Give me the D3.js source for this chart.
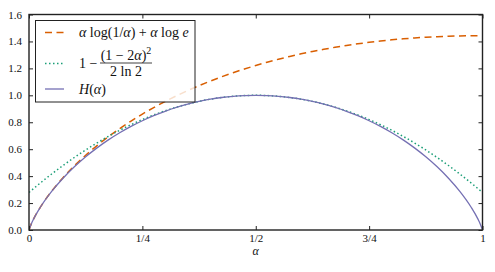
<!DOCTYPE html>
<html><head><meta charset="utf-8">
<script src="https://cdn.jsdelivr.net/npm/d3@7"></script>
<style>
html,body{margin:0;padding:0;background:#fff;}
svg{display:block;font-family:'Liberation Serif','DejaVu Serif',serif;}
svg text{font-family:'Liberation Serif','DejaVu Serif',serif;}
</style></head>
<body>
<svg id="chart" width="495" height="272"></svg>
<script>
// ---- data ----
const alpha = [0,0.005,0.01,0.025,0.05,0.075,0.1,0.125,0.15,0.175,0.2,0.225,0.25,0.275,0.3,0.325,0.35,0.375,0.4,0.425,0.45,0.475,0.5,0.525,0.55,0.575,0.6,0.625,0.65,0.675,0.7,0.725,0.75,0.775,0.8,0.825,0.85,0.875,0.9,0.925,0.95,0.975,0.99,0.995,1];
const upperBound = [0,0.0454,0.0809,0.1691,0.2882,0.3885,0.4765,0.5553,0.6270,0.6925,0.7529,0.8088,0.8607,0.9089,0.9539,0.9959,1.0351,1.0716,1.1059,1.1378,1.1676,1.1954,1.2214,1.2455,1.2679,1.2886,1.3078,1.3255,1.3417,1.3566,1.3701,1.3823,1.3933,1.4031,1.4117,1.4192,1.4256,1.4309,1.4352,1.4385,1.4409,1.4423,1.4426,1.4427,1.4427];
const quadBound = [0.2787,0.2930,0.3072,0.3490,0.4157,0.4788,0.5383,0.5942,0.6465,0.6952,0.7403,0.7818,0.8197,0.8539,0.8846,0.9116,0.9351,0.9549,0.9712,0.9838,0.9928,0.9982,1,0.9982,0.9928,0.9838,0.9712,0.9549,0.9351,0.9116,0.8846,0.8539,0.8197,0.7818,0.7403,0.6952,0.6465,0.5942,0.5383,0.4788,0.4157,0.3490,0.3072,0.2930,0.2787];
const entropy = [0,0.0454,0.0808,0.1687,0.2864,0.3843,0.4690,0.5436,0.6098,0.6690,0.7219,0.7692,0.8113,0.8486,0.8813,0.9097,0.9341,0.9544,0.9710,0.9837,0.9928,0.9982,1,0.9982,0.9928,0.9837,0.9710,0.9544,0.9341,0.9097,0.8813,0.8486,0.8113,0.7692,0.7219,0.6690,0.6098,0.5436,0.4690,0.3843,0.2864,0.1687,0.0808,0.0454,0];
const xTicks = [0,0.25,0.5,0.75,1];
const xTickLabels = ["0","1/4","1/2","3/4","1"];
const yTicks = [0,0.2,0.4,0.6,0.8,1.0,1.2,1.4,1.6];
const colors = {upper:"#d95f02", quad:"#1b9e77", entropy:"#7570b3"};

// ---- layout ----
const FONT = "'Liberation Serif','DejaVu Serif',serif";
const svg = d3.select("#chart");
const L = 29, R = 482.5, T = 14.5, B = 230;
const x = d3.scaleLinear().domain([0,1]).range([L,R]);
const y = d3.scaleLinear().domain([0,1.6]).range([B,T]);

const line = (vals) => d3.line().x((d,i)=>x(alpha[i])).y(d=>y(d)).curve(d3.curveMonotoneX)(vals);

const g = svg.append("g");
g.append("defs").append("clipPath").attr("id","clip").append("rect")
  .attr("x",L).attr("y",T).attr("width",R-L).attr("height",B-T);

const plot = g.append("g").attr("clip-path","url(#clip)");
plot.append("path").attr("d",line(upperBound)).attr("fill","none")
  .attr("stroke",colors.upper).attr("stroke-width",1.5).attr("stroke-dasharray","7,4.5");
plot.append("path").attr("d",line(quadBound)).attr("fill","none")
  .attr("stroke",colors.quad).attr("stroke-width",1.5).attr("stroke-dasharray","1.5,2.5");
plot.append("path").attr("d",line(entropy)).attr("fill","none")
  .attr("stroke",colors.entropy).attr("stroke-width",1.3);

// axes (ticks inward, on all four sides)
const tl = 4;
const axColor = "#222";
const axB = d3.axisBottom(x).tickValues(xTicks).tickSize(-tl).tickFormat((d,i)=>xTickLabels[i]).tickPadding(4);
const axT = d3.axisTop(x).tickValues(xTicks).tickSize(-tl).tickFormat("");
const axL = d3.axisLeft(y).tickValues(yTicks).tickSize(-tl).tickFormat(d3.format(".1f")).tickPadding(7);
const axR = d3.axisRight(y).tickValues(yTicks).tickSize(-tl).tickFormat("");

function styleAxis(sel){
  sel.attr("font-family",FONT).attr("font-size",11);
  sel.select(".domain").remove();
  sel.selectAll(".tick line").attr("stroke",axColor).attr("stroke-width",1);
  sel.selectAll(".tick text").attr("fill","#111").style("font-size","11px")
     .style("font-family",FONT);
}
g.append("g").attr("transform",`translate(0,${B})`).call(axB).call(styleAxis);
g.append("g").attr("transform",`translate(0,${T})`).call(axT).call(styleAxis);
g.append("g").attr("transform",`translate(${L},0)`).call(axL).call(styleAxis);
g.append("g").attr("transform",`translate(${R},0)`).call(axR).call(styleAxis);

g.append("rect").attr("x",L).attr("y",T).attr("width",R-L).attr("height",B-T)
  .attr("fill","none").attr("stroke",axColor).attr("stroke-width",1.4);

// x-axis label
g.append("text").attr("x",(L+R)/2).attr("y",255).attr("text-anchor","middle")
  .style("font-family",FONT).style("font-style","italic").style("font-size","12px")
  .attr("fill","#111").text("α");

// ---- legend ----
const lg = g.append("g");
lg.append("rect").attr("x",35.5).attr("y",20.5).attr("width",159.5).attr("height",81.5)
  .attr("fill","#fff").attr("fill-opacity",0.8).attr("stroke","#222").attr("stroke-width",1);

const hx0 = 45, hx1 = 64;
lg.append("line").attr("x1",hx0).attr("x2",hx1).attr("y1",32.5).attr("y2",32.5)
  .attr("stroke",colors.upper).attr("stroke-width",1.5).attr("stroke-dasharray","7,4.5");
lg.append("line").attr("x1",hx0).attr("x2",hx1).attr("y1",63.5).attr("y2",63.5)
  .attr("stroke",colors.quad).attr("stroke-width",1.5).attr("stroke-dasharray","1.5,2.5");
lg.append("line").attr("x1",hx0).attr("x2",hx1).attr("y1",89).attr("y2",89)
  .attr("stroke",colors.entropy).attr("stroke-width",1.3);

const fs = "14px";
function mathText(xp, yp, parts, anchor){
  const t = lg.append("text").attr("x",xp).attr("y",yp).style("font-size",fs)
    .style("font-family",FONT).attr("fill","#111")
    .attr("text-anchor",anchor||"start").attr("xml:space","preserve");
  parts.forEach(p=>{
    const s = t.append("tspan").text(p[0]);
    if (p[1]==="i") s.style("font-style","italic");
    if (p[1]==="sup") s.style("font-size","10px").attr("dy","-6");
  });
  return t;
}
mathText(79, 37, [["α","i"],[" log(1/"],["α","i"],[") + "],["α","i"],[" log "],["e","i"]]);
mathText(79, 67.5, [["1 − "]]);
mathText(126, 59.5, [["(1 − 2"],["α","i"],[")"],["2","sup"]], "middle");
lg.append("line").attr("x1",100).attr("x2",152).attr("y1",63).attr("y2",63)
  .attr("stroke","#111").attr("stroke-width",0.8);
mathText(126, 75.5, [["2 ln 2"]], "middle");
mathText(79, 94, [["H","i"],["("],["α","i"],[")"]]);
</script>
</body></html>
